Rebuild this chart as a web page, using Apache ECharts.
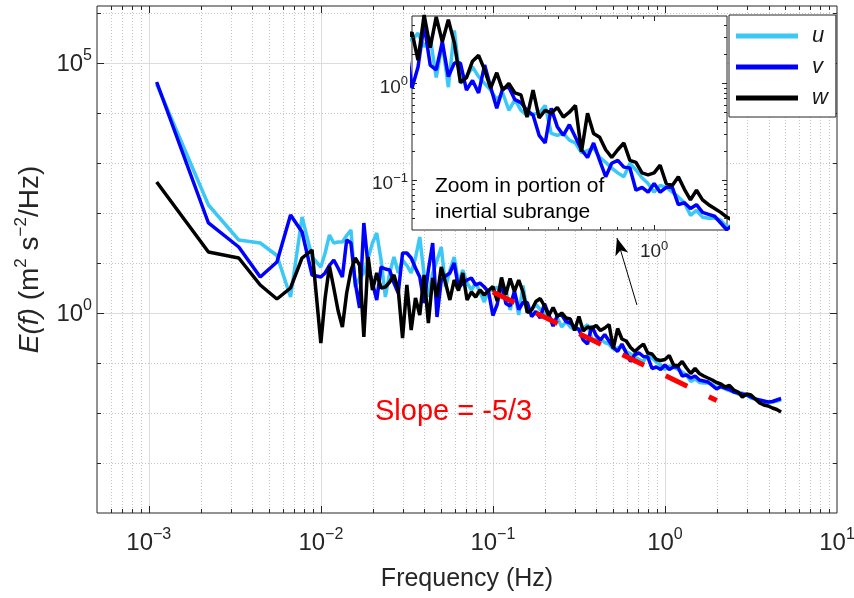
<!DOCTYPE html>
<html><head><meta charset="utf-8">
<script src="https://cdn.jsdelivr.net/npm/echarts@6/dist/echarts.min.js"></script>
<style>html,body{margin:0;padding:0;background:#fff}#c{width:854px;height:598px}</style>
</head><body><div id="c"></div>
<script>
// Frequency bins (Hz)
const freq = [0.001111,0.002222,0.003333,0.004444,0.005556,0.006667,0.007778,0.008889,
0.01000,0.01059,0.01122,0.01189,0.01259,0.01334,0.01413,0.01496,0.01585,0.01679,
0.01778,0.01884,0.01995,0.02113,0.02239,0.02371,0.02512,0.02661,0.02818,0.02985,
0.03162,0.03350,0.03548,0.03758,0.03981,0.04217,0.04467,0.04732,0.05012,0.05309,
0.05623,0.05957,0.06310,0.06683,0.07079,0.07499,0.07943,0.08414,0.08913,0.09441,
0.1000,0.1059,0.1122,0.1189,0.1259,0.1334,0.1413,0.1496,0.1585,0.1679,
0.1778,0.1884,0.1995,0.2113,0.2239,0.2371,0.2512,0.2661,0.2818,0.2985,
0.3162,0.3350,0.3548,0.3758,0.3981,0.4217,0.4467,0.4732,0.5012,0.5309,
0.5623,0.5957,0.6310,0.6683,0.7079,0.7499,0.7943,0.8414,0.8913,0.9441,
1.000,1.059,1.122,1.189,1.259,1.334,1.413,1.496,1.585,1.679,
1.778,1.884,1.995,2.113,2.239,2.371,2.512,2.661,2.818,2.985,
3.162,3.350,3.548,3.758,3.981,4.217,4.467,4.732];

// log10 of E(f)
const uLogE = [4.58,2.16,1.46,1.40,1.15,0.32,1.92,1.12,
0.92,1.20,1.56,1.40,1.42,1.42,1.55,1.66,0.52,0.70,
0.80,1.10,1.40,1.60,1.06,0.32,0.80,1.12,0.80,1.06,
0.95,0.80,1.10,1.52,0.76,0.32,0.80,1.05,1.32,0.52,
0.85,1.12,0.60,0.86,0.60,0.46,0.60,0.42,0.22,0.46,
0.45,0.52,0.38,0.48,0.06,0.42,-0.04,0.55,0.00,0.07,
0.17,0.07,0.00,-0.07,-0.17,-0.10,-0.28,-0.17,-0.28,-0.33,
-0.32,-0.31,-0.23,-0.52,-0.54,-0.52,-0.59,-0.62,-0.72,-0.70,
-0.67,-0.77,-0.82,-0.88,-0.93,-0.97,-0.83,-0.90,-0.98,-1.04,
-1.13,-1.06,-1.08,-1.13,-1.18,-1.24,-1.37,-1.32,-1.39,-1.40,
-1.40,-1.42,-1.49,-1.48,-1.52,-1.55,-1.58,-1.62,-1.60,-1.64,
-1.70,-1.72,-1.76,-1.78,-1.80,-1.78,-1.76,-1.74];

const vLogE = [4.62,1.80,1.32,0.72,1.02,1.96,1.62,0.76,
0.72,0.80,0.95,1.06,0.90,0.72,1.46,1.40,0.60,0.10,
1.80,0.92,0.60,0.26,0.92,0.88,0.86,0.60,0.40,1.20,
1.20,1.10,0.90,0.72,0.20,0.86,1.40,-0.08,0.66,0.74,
0.80,1.00,0.50,0.60,0.66,0.70,0.56,0.60,0.52,0.42,
-0.05,0.17,0.61,0.19,0.14,0.43,0.07,0.21,0.21,-0.07,
0.03,-0.10,0.19,-0.04,-0.26,-0.05,-0.04,-0.17,-0.20,-0.28,
-0.33,-0.54,-0.62,-0.26,-0.45,-0.54,-0.43,-0.56,-0.69,-0.77,
-0.62,-0.80,-0.97,-0.83,-0.80,-0.87,-0.88,-1.11,-1.08,-1.13,
-1.04,-1.13,-1.08,-1.08,-1.26,-1.24,-1.30,-1.26,-1.34,-1.36,
-1.38,-1.45,-1.52,-1.47,-1.50,-1.53,-1.58,-1.60,-1.62,-1.64,
-1.68,-1.72,-1.74,-1.76,-1.78,-1.77,-1.74,-1.71];

const wLogE = [2.62,1.22,1.10,0.56,0.28,0.50,1.10,1.26,
-0.60,0.30,0.94,0.50,0.05,-0.28,0.40,0.85,1.10,0.96,
-0.48,1.12,0.46,0.80,0.50,0.52,0.62,0.76,0.46,-0.50,
0.56,-0.34,0.30,-0.04,0.76,-0.20,0.70,0.32,0.92,0.60,
0.26,0.66,0.45,0.80,0.26,0.42,0.32,0.46,0.36,0.45,
0.53,0.24,0.71,0.37,0.69,0.43,0.66,0.42,0.01,0.06,
0.23,0.29,0.14,-0.05,0.11,-0.07,0.00,-0.10,-0.12,-0.35,
-0.07,-0.36,-0.28,-0.31,-0.25,-0.35,-0.30,-0.23,-0.71,-0.31,
-0.52,-0.56,-0.69,-0.77,-0.69,-0.62,-0.80,-0.82,-0.93,-0.95,
-0.93,-0.85,-1.04,-1.06,-0.97,-1.10,-1.21,-1.11,-1.21,-1.26,
-1.30,-1.34,-1.39,-1.42,-1.48,-1.45,-1.54,-1.58,-1.68,-1.62,
-1.64,-1.72,-1.80,-1.84,-1.86,-1.90,-1.93,-1.98];

// -5/3 reference line end points
const slopeFreq = [0.1, 2];
const slopeE = [2.63, 0.0178];
// annotation arrow (from, to) in data units
const arrowFrom = [0.687, 1.45];
const arrowTo = [0.526, 31.6];

// axis ranges and tick values
const mainX = [5e-4, 10];
const mainY = [1e-4, 1.38e6];
const insetX = [0.1, 2];
const insetY = [0.03, 5];
const mainXMajor = [0.001, 0.01, 0.1, 1];
const mainXLabels = [0.001, 0.01, 0.1, 1, 10];
const mainYMajor = [1, 1e5];
const mainYMinor = [1e-3, 1e-2, 1e-1, 10, 100, 1e3, 1e4, 1e6];
const insetXMajor = [1];
const insetXMinor = [0.2,0.3,0.4,0.5,0.6,0.7,0.8,0.9];
const insetYMajor = [0.1, 1];
const insetYMinor = [0.04,0.05,0.06,0.07,0.08,0.09,0.2,0.3,0.4,0.5,0.6,0.7,0.8,0.9,2,3,4];
const insetXLabels = [1];
const insetYLabels = [0.1, 1];

if (uLogE.length !== freq.length || vLogE.length !== freq.length || wLogE.length !== freq.length) {
  throw new Error('length mismatch ' + freq.length + ' ' + uLogE.length + ' ' + vLogE.length + ' ' + wLogE.length);
}

const mainXMinor = [];
[-4,-3,-2,-1,0].forEach(function(d){ for (let m = 2; m <= 9; m++) { const v = m * Math.pow(10, d); if (v > mainX[0]*1.0001 && v < mainX[1]) mainXMinor.push(v); } });

const fontFam = "'Liberation Sans', Arial, Helvetica, sans-serif";
const axisColor = '#262626';
const colors = {u: '#3cc8f6', v: '#0000ff', w: '#000000'};

function toPairs(logs) { return freq.map(function(f, i){ return [f, Math.pow(10, logs[i])]; }); }
const uData = toPairs(uLogE), vData = toPairs(vLogE), wData = toPairs(wLogE);
const slopeData = slopeFreq.map(function(f, i){ return [f, slopeE[i]]; });

// tick / grid items: [x, y, kind]
const mainTickItems = [];
mainXMajor.forEach(function(v){ mainTickItems.push([v, 1, 0]); });
mainXMinor.forEach(function(v){ mainTickItems.push([v, 1, 1]); });
mainYMajor.forEach(function(v){ mainTickItems.push([1, v, 2]); });
mainYMinor.forEach(function(v){ mainTickItems.push([1, v, 3]); });
const insetTickItems = [];
insetXMajor.forEach(function(v){ insetTickItems.push([v, 1, 0]); });
insetXMinor.forEach(function(v){ insetTickItems.push([v, 1, 1]); });
insetYMajor.forEach(function(v){ insetTickItems.push([1, v, 2]); });
insetYMinor.forEach(function(v){ insetTickItems.push([1, v, 3]); });

const mainLabelItems = mainXLabels.map(function(v){ return [v, 1, 0]; }).concat(mainYMajor.map(function(v){ return [1, v, 1]; }));
const insetLabelItems = insetXLabels.map(function(v){ return [v, 1, 0]; }).concat(insetYLabels.map(function(v){ return [1, v, 1]; }));

const gridMajorStyle = {stroke: '#dcdcdc', lineWidth: 1};
const gridMinorStyle = {stroke: '#c4c4c4', lineWidth: 1, lineDash: [1, 2]};
const tickStyle = {stroke: axisColor, lineWidth: 1};

function makeTickRender(withGrid, majLen, minLen) {
  return function(params, api) {
    const cs = params.coordSys;
    const kind = api.value(2);
    const L = cs.x, T = cs.y, R = cs.x + cs.width, B = cs.y + cs.height;
    const p = api.coord([api.value(0), api.value(1)]);
    const ch = [];
    if (kind <= 1) {
      const px = Math.round(p[0]) + 0.5;
      const len = kind === 0 ? majLen : minLen;
      if (withGrid) ch.push({type: 'line', shape: {x1: px, y1: T, x2: px, y2: B}, style: kind === 0 ? gridMajorStyle : gridMinorStyle});
      ch.push({type: 'line', shape: {x1: px, y1: B, x2: px, y2: B - len}, style: tickStyle});
      ch.push({type: 'line', shape: {x1: px, y1: T, x2: px, y2: T + len}, style: tickStyle});
    } else {
      const py = Math.round(p[1]) + 0.5;
      const len = kind === 2 ? majLen : minLen;
      if (withGrid) ch.push({type: 'line', shape: {x1: L, y1: py, x2: R, y2: py}, style: kind === 2 ? gridMajorStyle : gridMinorStyle});
      ch.push({type: 'line', shape: {x1: L, y1: py, x2: L + len, y2: py}, style: tickStyle});
      ch.push({type: 'line', shape: {x1: R, y1: py, x2: R - len, y2: py}, style: tickStyle});
    }
    return {type: 'group', children: ch};
  };
}

function makeRich(base, sup, lh, slh) {
  return {
    b: {fontSize: base, fontFamily: fontFam, fill: axisColor, lineHeight: lh},
    s: {fontSize: sup, fontFamily: fontFam, fill: axisColor, lineHeight: slh, verticalAlign: 'top'}
  };
}
const richMain = makeRich(24, 16, 32, 10);
const richInset = makeRich(19, 13, 24, 8);

function expText(e) { return e < 0 ? '\u2212' + (-e) : String(e); }

function makeLabelRender(rich, xOff, yRight, yShift) {
  return function(params, api) {
    const cs = params.coordSys;
    const kind = api.value(2);
    const p = api.coord([api.value(0), api.value(1)]);
    const val = kind === 0 ? api.value(0) : api.value(1);
    const e = Math.round(Math.log10(val));
    const text = '{b|10}{s|' + expText(e) + '}';
    if (kind === 0) {
      return {type: 'text', x: p[0], y: cs.y + cs.height + xOff,
        style: {text: text, rich: rich, align: 'center', verticalAlign: 'top', fill: axisColor}};
    }
    return {type: 'text', x: cs.x - yRight, y: p[1] + yShift,
      style: {text: text, rich: rich, align: 'right', verticalAlign: 'middle', fill: axisColor}};
  };
}

function hiddenAxis(extra) {
  return Object.assign({type: 'log', axisLine: {show: false}, axisTick: {show: false},
    axisLabel: {show: false}, splitLine: {show: false}, minorTick: {show: false}, minorSplitLine: {show: false}}, extra);
}

const chart = echarts.init(document.getElementById('c'), null, {renderer: 'canvas'});
const option = {
  animation: false,
  backgroundColor: '#ffffff',
  textStyle: {fontFamily: fontFam},
  grid: [
    {left: 97, top: 6, width: 740, height: 507, show: true, backgroundColor: '#fff', borderColor: axisColor, borderWidth: 1, z: 0},
    {left: 412, top: 16, width: 315, height: 214, show: true, backgroundColor: '#fff', borderColor: axisColor, borderWidth: 1, z: 5}
  ],
  xAxis: [
    hiddenAxis({gridIndex: 0, min: mainX[0], max: mainX[1], name: 'Frequency (Hz)', nameLocation: 'middle', nameGap: 54,
      nameTextStyle: {fontSize: 25, color: axisColor, fontFamily: fontFam}}),
    hiddenAxis({gridIndex: 1, min: insetX[0], max: insetX[1], z: 6})
  ],
  yAxis: [
    hiddenAxis({gridIndex: 0, min: mainY[0], max: mainY[1], name: '{i|E(f)} (m{s|2} s{s|\u22122}/Hz)', nameLocation: 'middle', nameGap: 50, nameRotate: 90,
      nameTextStyle: {fontSize: 28, color: axisColor, fontFamily: fontFam, lineHeight: 34,
        rich: {i: {fontSize: 28, fontStyle: 'italic', color: axisColor, fontFamily: fontFam, lineHeight: 34},
               s: {fontSize: 17, color: axisColor, fontFamily: fontFam, lineHeight: 12, verticalAlign: 'top'}}}}),
    hiddenAxis({gridIndex: 1, min: insetY[0], max: insetY[1], z: 6})
  ],
  legend: {
    data: ['u', 'v', 'w'], orient: 'vertical', left: 729, top: 15, padding: [10, 8, 8, 7], itemGap: 9,
    itemWidth: 62, itemHeight: 5, icon: 'rect', borderColor: axisColor, borderWidth: 1, backgroundColor: '#fff',
    selectedMode: false,
    textStyle: {fontSize: 22, fontStyle: 'italic', color: '#1a1a1a', lineHeight: 22, padding: [0, 0, 0, 9], fontFamily: fontFam}
  },
  graphic: [
    {type: 'text', left: 375, top: 397, z: 20, style: {text: 'Slope = -5/3', fill: '#ff0000', fontSize: 29, fontFamily: fontFam}},
    {type: 'text', left: 435, top: 173, z: 20, style: {text: 'Zoom in portion of\ninertial subrange', fill: '#000', fontSize: 21, lineHeight: 26, fontFamily: fontFam}}
  ],
  series: [
    {type: 'custom', name: 'mainAxes', xAxisIndex: 0, yAxisIndex: 0, z: 1, silent: true, renderItem: makeTickRender(true, 7, 4), data: mainTickItems},
    {type: 'custom', name: 'mainLabels', xAxisIndex: 0, yAxisIndex: 0, z: 1, silent: true, renderItem: makeLabelRender(richMain, 14, 5, 1), data: mainLabelItems},
    {type: 'line', name: 'u', data: uData, xAxisIndex: 0, yAxisIndex: 0, showSymbol: false, symbol: 'none', z: 2, lineStyle: {color: colors.u, width: 3.5}, itemStyle: {color: colors.u}},
    {type: 'line', name: 'v', data: vData, xAxisIndex: 0, yAxisIndex: 0, showSymbol: false, symbol: 'none', z: 2, lineStyle: {color: colors.v, width: 3.5}, itemStyle: {color: colors.v}},
    {type: 'line', name: 'w', data: wData, xAxisIndex: 0, yAxisIndex: 0, showSymbol: false, symbol: 'none', z: 2, lineStyle: {color: colors.w, width: 3.5}, itemStyle: {color: colors.w},
      markLine: {silent: true, symbol: ['none', 'arrow'], symbolSize: [10, 17], label: {show: false},
        lineStyle: {color: '#000', width: 1, type: 'solid'},
        data: [[{coord: arrowFrom}, {coord: arrowTo}]]}},
    {type: 'line', name: 'slope', data: slopeData, xAxisIndex: 0, yAxisIndex: 0, showSymbol: false, symbol: 'none', z: 3,
      lineStyle: {color: '#ff0000', width: 5, type: [24, 24], cap: 'butt'}},
    {type: 'line', name: 'u inset', data: uData, xAxisIndex: 1, yAxisIndex: 1, showSymbol: false, symbol: 'none', z: 10, clip: true, lineStyle: {color: colors.u, width: 3.5}},
    {type: 'line', name: 'v inset', data: vData, xAxisIndex: 1, yAxisIndex: 1, showSymbol: false, symbol: 'none', z: 10, clip: true, lineStyle: {color: colors.v, width: 3.5}},
    {type: 'line', name: 'w inset', data: wData, xAxisIndex: 1, yAxisIndex: 1, showSymbol: false, symbol: 'none', z: 10, clip: true, lineStyle: {color: colors.w, width: 3.5}},
    {type: 'custom', name: 'insetAxes', xAxisIndex: 1, yAxisIndex: 1, z: 11, silent: true, renderItem: makeTickRender(false, 5, 3), data: insetTickItems},
    {type: 'custom', name: 'insetLabels', xAxisIndex: 1, yAxisIndex: 1, z: 11, silent: true, renderItem: makeLabelRender(richInset, 10, 4, 4), data: insetLabelItems}
  ]
};
chart.setOption(option);
</script>
</body></html>
